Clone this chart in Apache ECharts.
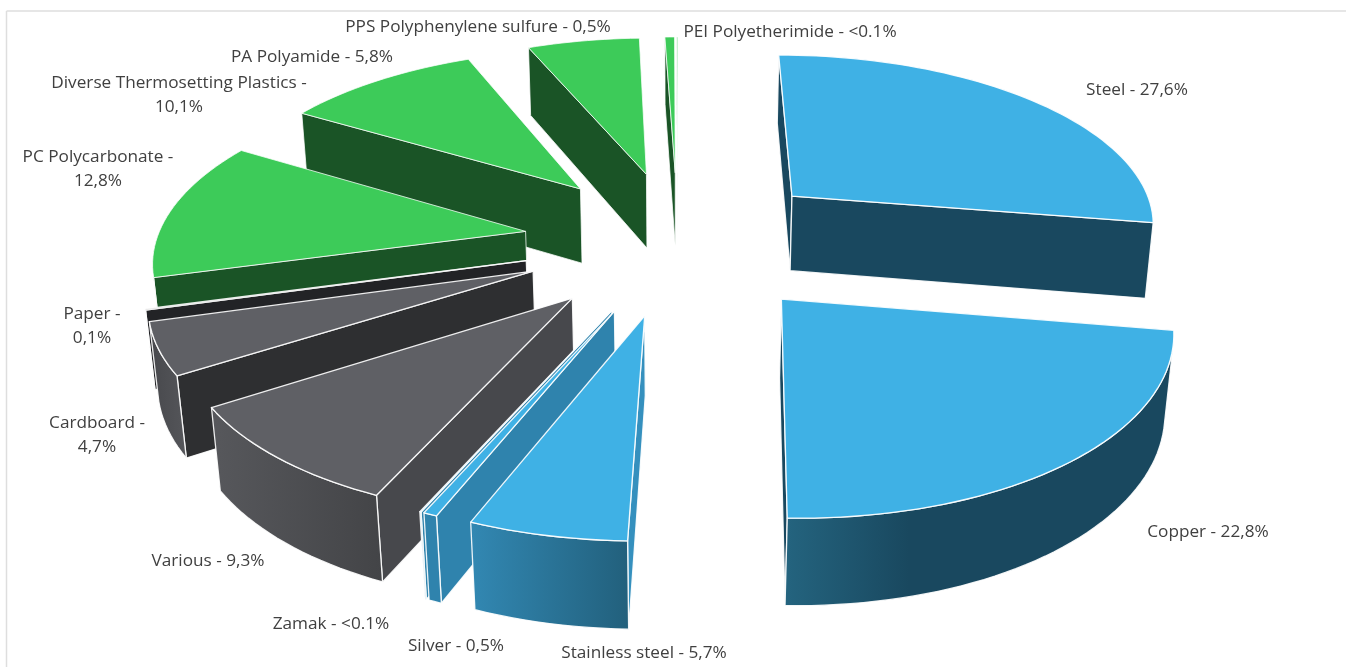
<!DOCTYPE html>
<html><head><meta charset="utf-8">
<style>html,body{margin:0;padding:0;background:#fff}#c{width:1346px;height:667px}</style>
<script src="https://cdn.jsdelivr.net/npm/echarts@6/dist/echarts.min.js"></script>
</head><body><div id="c"></div>
<script>
// ---- data, clockwise from 12 o'clock
const categories = ['Steel','Copper','Stainless steel','Silver','Zamak','Various','Cardboard','Paper','PC Polycarbonate','Diverse Thermosetting Plastics','PA Polyamide','PPS Polyphenylene sulfure','PEI Polyetherimide'];
const values = [27.6,22.8,5.7,0.5,0.05,9.3,4.7,0.1,12.8,10.1,5.8,0.5,0.05];
const valueLabels = ['27,6%','22,8%','5,7%','0,5%','<0.1%','9,3%','4,7%','0,1%','12,8%','10,1%','5,8%','0,5%','<0.1%'];
const wrapsLabel = [0,0,0,0,0,0,1,1,1,1,0,0,0];
// ---- styles
const BLUE='#3fb1e5', GREEN='#3dcb59', GREY='#5f6065';
const topColors=[BLUE,BLUE,BLUE,BLUE,BLUE,GREY,GREY,'#222326',GREEN,GREEN,GREEN,GREEN,GREEN];
const radialColors=['#19485f','#19485f','#3590be','#2f83ad','#2f83ad','#47484c','#2e2f31','#222326','#1a5426','#1a5426','#1a5426','#1a5426','#1a5426'];
const outerColors=[['#19485f','#19485f'],['#24647f','#19485f'],['#3288b3','#22607c'],['#2f83ad','#2f83ad'],['#2f83ad','#2f83ad'],['#57585c','#434447'],['#47484c','#55565a'],['#222326','#222326'],['#1a5426','#1a5426'],['#1a5426','#1a5426'],['#1a5426','#1a5426'],['#1a5426','#1a5426'],['#1a5426','#1a5426']];
const outerGradientEnd=[1,0.68,1,1,1,1,1,1,1,1,1,1,1];
// ---- label layout: centre x, first-line centre y
const labelAnchors=[[1137,90],[1208,532],[644,653],[456,646],[331,624],[208,561],[97,423],[92,314],[98,157],[179,83],[312,57],[478,27],[790,32]];
// ---- projection
const CX=678, CY=241, R=369, EXPLODE=155, DEPTH=88;
const SIN_T=0.465, COS_T=Math.sqrt(1-SIN_T*SIN_T), DIST=COS_T/0.00037;
function project(u,v,h){
  const s=DIST/(DIST-v*COS_T-h*SIN_T);
  return [CX+u*s, CY+(v*SIN_T-h*COS_T)*s];
}
const total=values.reduce((a,b)=>a+b,0);
let acc=0;
const slices=values.map((val,i)=>{const a0=acc/total*2*Math.PI;acc+=val;const a1=acc/total*2*Math.PI;return {i,a0,a1};});
function area(p){let s=0;for(let k=0;k<p.length;k++){const a=p[k],b=p[(k+1)%p.length];s+=a[0]*b[1]-b[0]*a[1];}return s/2;}
const EDGE={stroke:'rgba(255,255,255,0.9)',lineWidth:1.3,lineJoin:'round'};
function renderSlice(params,api){
  const i=api.value(0), sl=slices[i];
  const mid=(sl.a0+sl.a1)/2;
  const ox=EXPLODE*Math.sin(mid), oy=-EXPLODE*Math.cos(mid);
  const pt=(r,a,h)=>project(ox+r*Math.sin(a),oy-r*Math.cos(a),h);
  const steps=Math.max(2,Math.ceil((sl.a1-sl.a0)/0.03));
  const topArc=[],botArc=[];
  for(let k=0;k<=steps;k++){const a=sl.a0+(sl.a1-sl.a0)*k/steps;topArc.push(pt(R,a,0));botArc.push(pt(R,a,-DEPTH));}
  const apexT=pt(0,0,0), apexB=pt(0,0,-DEPTH);
  const children=[];
  const stroke=topColors[i]===GREEN?{stroke:'rgba(255,255,255,0.75)',lineWidth:1}:EDGE;
  const poly=(points,fill,st)=>children.push({type:'polygon',shape:{points},style:Object.assign({fill},st||stroke),silent:true});
  // Radial walls: seen only if they face the camera after projection.
  const wa=[apexT,topArc[0],botArc[0],apexB];
  const wb=[topArc[steps],apexT,apexB,botArc[steps]];
  if(area(wa)<0) poly(wa,radialColors[i]);
  if(area(wb)<0) poly(wb,radialColors[i]);
  // Outer wall: consecutive visible facets merged into one polygon.
  let run=null;const runs=[];
  for(let k=0;k<steps;k++){
    const quad=[topArc[k],topArc[k+1],botArc[k+1],botArc[k]];
    if(area(quad)<0){ if(!run){run=[k,k+1];runs.push(run);} else run[1]=k+1; } else run=null;
  }
  runs.forEach(r=>{
    const pts=topArc.slice(r[0],r[1]+1).concat(botArc.slice(r[0],r[1]+1).reverse());
    const c=outerColors[i], e=outerGradientEnd[i];
    // Copper runs right-to-left along the front, so its light end is on the left.
    const stops=e<1?[{offset:0,color:c[1]},{offset:e,color:c[1]},{offset:1,color:c[0]}]:[{offset:0,color:c[0]},{offset:1,color:c[1]}];
    poly(pts,new echarts.graphic.LinearGradient(e<1?1:0,0,e<1?0:1,0,stops));
  });
  poly([apexT].concat(topArc),topColors[i]);
  return {type:'group',children};
}
// far slices first
const drawOrder=slices.slice().sort((p,q)=>(-Math.cos((p.a0+p.a1)/2))-(-Math.cos((q.a0+q.a1)/2))).map(s=>[s.i]);
const labelText=categories.map((c,i)=>c+' -'+(wrapsLabel[i]?'\n':' ')+valueLabels[i]);
const chart=echarts.init(document.getElementById('c'),null,{renderer:'canvas'});
chart.setOption({
  animation:false,
  backgroundColor:'#fff',
  series:[{type:'custom',coordinateSystem:'none',data:drawOrder,renderItem:renderSlice,silent:true}],
  graphic:[
    {type:'line',shape:{x1:6.5,y1:11,x2:1346,y2:11},style:{stroke:'#dedede',lineWidth:1.5},silent:true},
    {type:'line',shape:{x1:6.5,y1:11,x2:6.5,y2:667},style:{stroke:'#dedede',lineWidth:1.5},silent:true}
  ].concat(labelText.map((t,i)=>({type:'text',x:labelAnchors[i][0],y:labelAnchors[i][1]-12,silent:true,
    style:{text:t,fill:'#404040',font:'17.2px "Open Sans"',align:'center',verticalAlign:'top',lineHeight:24}})))
});
</script></body></html>
